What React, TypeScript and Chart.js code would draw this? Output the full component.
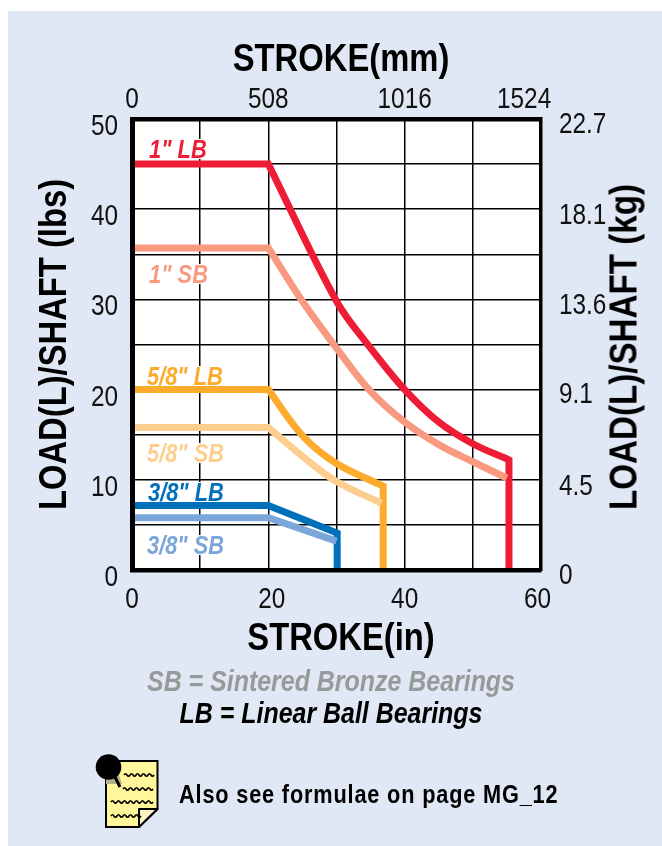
import React, { useEffect, useRef } from "react";
import { Chart, registerables } from "chart.js";

Chart.register(...registerables);

const FONT = '"Liberation Sans", Arial, sans-serif';
const CONDENSE = 0.84;

// Stroke (in) and load (lbs); a repeated point is a sharp corner
const lb1X = [0, 20, 20, 30, 35, 40, 45, 50, 55.3, 55.3, 55.3, 55.3];
const lb1Y = [45, 45, 45, 29.8, 24.6, 20, 16.4, 14, 12.2, 12.2, 0, 0];
const sb1X = [0, 20, 20, 25, 30, 35, 40, 45, 50, 55];
const sb1Y = [35.7, 35.7, 35.7, 29.8, 24.6, 19.8, 16.4, 13.9, 12, 10.2];
const lb58X = [0, 20, 20, 25, 30, 36.85, 36.85, 36.85, 36.85];
const lb58Y = [20, 20, 20, 14.9, 11.8, 9.3, 9.3, 0, 0];
const sb58X = [0, 20, 20, 25, 30, 36.6];
const sb58Y = [15.8, 15.8, 15.8, 12.6, 9.8, 7.4];
const lb38X = [0, 20, 20, 30.1, 30.1, 30.1, 30.1];
const lb38Y = [7.15, 7.15, 7.15, 4.1, 4.1, 0, 0];
const sb38X = [0, 20, 20, 30];
const sb38Y = [5.8, 5.8, 5.8, 3.2];

const inTicks = [0, 20, 40, 60];
const lbsTicks = [0, 10, 20, 30, 40, 50];
const mmTicks = [0, 508, 1016, 1524];
const kgTicks = [0, 4.5, 9.1, 13.6, 18.1, 22.7];

const RED = "#ee1c34";
const SALMON = "#f79a80";
const ORANGE = "#fcab2c";
const PEACH = "#fdcf8f";
const BLUE = "#0070ba";
const SKY = "#7ba6d9";

const toPoints = (xs: number[], ys: number[]) => xs.map((x, i) => ({ x, y: ys[i] }));

// The original type is a condensed grotesque: squeeze all chart text along its own baseline.
const condensedText = {
  id: "condensedText",
  beforeInit(chart: any) {
    const ctx = chart.ctx;
    const fill = ctx.fillText.bind(ctx);
    ctx.fillText = (t: string, x: number, y: number) => {
      ctx.save();
      ctx.translate(x, y);
      ctx.scale(CONDENSE, 1);
      fill(t, 0, 0);
      ctx.restore();
    };
  },
};

const whitePlot = {
  id: "whitePlot",
  beforeDraw(chart: any) {
    const { ctx, chartArea: a } = chart;
    ctx.save();
    ctx.fillStyle = "#ffffff";
    ctx.fillRect(a.left, a.top, a.right - a.left, a.bottom - a.top);
    ctx.restore();
  },
};

const curveLabels = [
  { text: '1" LB', color: RED, left: 149, base: 158, w: 60 },
  { text: '1" SB', color: SALMON, left: 149, base: 283, w: 60 },
  { text: '5/8" LB', color: ORANGE, left: 147, base: 385, w: 78 },
  { text: '5/8" SB', color: PEACH, left: 147, base: 462, w: 80 },
  { text: '3/8" LB', color: BLUE, left: 148, base: 501, w: 84 },
  { text: '3/8" SB', color: SKY, left: 147, base: 554, w: 80 },
];

const wave = (x1: number, x2: number, y: number) => {
  let d = `M${x1} ${y}`;
  for (let x = x1; x < x2; x += 6) d += ` q1.5 -2.4 3 0 t3 0`;
  return d;
};

export default function App() {
  const ref = useRef<HTMLCanvasElement>(null);
  useEffect(() => {
    const line = (points: any[], color: string, width: number) => ({
      data: points,
      borderColor: color,
      borderWidth: width,
      borderJoinStyle: "miter" as const,
      pointRadius: 0,
      tension: 0.35,
      fill: false,
      xAxisID: "x",
      yAxisID: "y",
    });
    const xFont = { family: FONT, size: 29 };
    const titleFont = { family: FONT, size: 39, weight: "bold" as const, lineHeight: 1.2 };
    const grid = { color: "#000000", lineWidth: 1.5, drawTicks: false };
    const chart = new Chart(ref.current as HTMLCanvasElement, {
      type: "line",
      data: {
        datasets: [
          line(toPoints(sb1X, sb1Y), SALMON, 7),
          line(toPoints(lb1X, lb1Y), RED, 7),
          line(toPoints(sb58X, sb58Y), PEACH, 7),
          line(toPoints(lb58X, lb58Y), ORANGE, 7),
          line(toPoints(sb38X, sb38Y), SKY, 7),
          line(toPoints(lb38X, lb38Y), BLUE, 7),
        ],
      },
      plugins: [condensedText, whitePlot],
      options: {
        animation: false,
        responsive: false,
        layout: { padding: 0 },
        plugins: { legend: { display: false }, tooltip: { enabled: false }, title: { display: false } },
        scales: {
          x: {
            type: "linear",
            position: "bottom",
            min: 0,
            max: 60,
            afterFit: (s: any) => { s.height = 276; },
            grid,
            border: { color: "#000", width: 4.5, z: 1 },
            ticks: {
              stepSize: 10,
              autoSkip: false,
              maxRotation: 0,
              padding: 13,
              color: "#111",
              font: xFont,
              callback: (v: any) =>
                v === 60 ? "60\u00a0" : v === 20 ? "\u00a020" : inTicks.includes(v) ? String(v) : "",
            },
            title: { display: true, text: "\u00a0STROKE(in)", color: "#000", font: titleFont, padding: { top: 0, bottom: 183 } },
          },
          xTop: {
            type: "linear",
            position: "top",
            min: 0,
            max: 1524,
            afterFit: (s: any) => { s.height = 119; },
            afterBuildTicks: (s: any) => { s.ticks = mmTicks.map((value) => ({ value })); },
            grid: { display: false },
            border: { color: "#000", width: 4.5, z: 1 },
            ticks: {
              autoSkip: false,
              maxRotation: 0,
              padding: -6,
              color: "#111",
              font: xFont,
              callback: (v: any) => (v === 1524 ? "1524\u00a0\u00a0\u00a0\u00a0\u00a0" : String(v)),
            },
            title: { display: true, text: "\u00a0STROKE(mm)", color: "#000", font: titleFont, padding: { top: 37, bottom: 0 } },
          },
          y: {
            type: "linear",
            position: "left",
            min: 0,
            max: 50,
            afterFit: (s: any) => { s.width = 132; },
            grid,
            border: { color: "#000", width: 5, z: 1 },
            ticks: {
              stepSize: 5,
              autoSkip: false,
              padding: 14,
              color: "#111",
              font: { family: FONT, size: 29, lineHeight: "16px" },
              callback: (v: any) => (lbsTicks.includes(v) ? ["", String(v)] : ""),
            },
            title: { display: true, text: "LOAD(L)/SHAFT (lbs)", color: "#000", font: titleFont, padding: { top: 32, bottom: 0 } },
          },
          yRight: {
            type: "linear",
            position: "right",
            min: 0,
            max: 22.7,
            afterFit: (s: any) => { s.width = 121; },
            afterBuildTicks: (s: any) => { s.ticks = kgTicks.map((value) => ({ value })); },
            grid: { display: false },
            border: { color: "#000", width: 3.5, z: 1 },
            ticks: {
              autoSkip: false,
              padding: 10,
              color: "#111",
              font: { family: FONT, size: 29, lineHeight: "12px" },
              callback: (v: any) => ["", String(v)],
            },
          },
        },
      },
    } as any);
    return () => chart.destroy();
  }, []);

  return (
    <div style={{ position: "absolute", left: 0, top: 0, width: 662, height: 846, background: "#fff", overflow: "hidden", fontFamily: FONT }}>
      <div style={{ position: "absolute", left: 8, top: 11, width: 654, height: 835, background: "#e0e8f5" }} />
      <canvas ref={ref} width={662} height={846} style={{ position: "absolute", left: 0, top: 0, display: "block" }} />
      {curveLabels.map((l) => (
        <div
          key={l.text}
          style={{
            position: "absolute",
            left: l.left,
            top: l.base - 19.5,
            width: l.w,
            height: 20,
            lineHeight: "20px",
            background: "#fff",
            color: l.color,
            fontSize: 26,
            fontWeight: "bold",
            fontStyle: "italic",
            whiteSpace: "nowrap",
          }}
        >
          <span style={{ display: "inline-block", transform: "scaleX(0.84)", transformOrigin: "left center" }}>{l.text}</span>
        </div>
      ))}
      <div
        style={{
          position: "absolute",
          left: 623,
          top: 346.5,
          transform: "translate(-50%,-50%) rotate(-90deg) scaleX(0.85)",
          fontSize: 39,
          fontWeight: "bold",
          lineHeight: 1,
          color: "#000",
          whiteSpace: "nowrap",
        }}
      >
        LOAD(L)/SHAFT (kg)
      </div>
      <div style={{ position: "absolute", left: 0, width: 662, textAlign: "center", top: 664, lineHeight: "34px", fontSize: 29, fontWeight: "bold", fontStyle: "italic", color: "#98999b", whiteSpace: "nowrap", transform: "scaleX(0.86)" }}>
        SB = Sintered Bronze Bearings
      </div>
      <div style={{ position: "absolute", left: 0, width: 662, textAlign: "center", top: 696, lineHeight: "34px", fontSize: 29, fontWeight: "bold", fontStyle: "italic", color: "#000", whiteSpace: "nowrap", transform: "scaleX(0.86)" }}>
        LB = Linear Ball Bearings
      </div>
      <div style={{ position: "absolute", left: 179, top: 778, lineHeight: "32px", fontSize: 26, fontWeight: "bold", letterSpacing: 1, color: "#000", whiteSpace: "nowrap", transform: "scaleX(0.835)", transformOrigin: "left center" }}>
        Also see formulae on page MG_12
      </div>
      <svg width={662} height={846} style={{ position: "absolute", left: 0, top: 0 }}>
        <path d="M106 761 H157.5 V809 L139 827 H106 Z" fill="#fff799" stroke="#000" strokeWidth={2} />
        <path d="M139 827 V809 H157.5 Z" fill="#fff3c4" stroke="#000" strokeWidth={2} strokeLinejoin="round" />
        <path d="M106 779 L118 772 L122 784 L106 784 Z" fill="#b5b08a" />
        <path d={wave(124, 150, 775)} fill="none" stroke="#000" strokeWidth={1.6} />
        <path d={wave(123, 151, 789)} fill="none" stroke="#000" strokeWidth={1.6} />
        <path d={wave(111, 151, 802)} fill="none" stroke="#000" strokeWidth={1.6} />
        <path d={wave(111, 136, 816)} fill="none" stroke="#000" strokeWidth={1.6} />
        <line x1={114} y1={775} x2={120} y2={787} stroke="#000" strokeWidth={3} />
        <circle cx={108.5} cy={767} r={12.8} fill="#000" />
      </svg>
    </div>
  );
}
